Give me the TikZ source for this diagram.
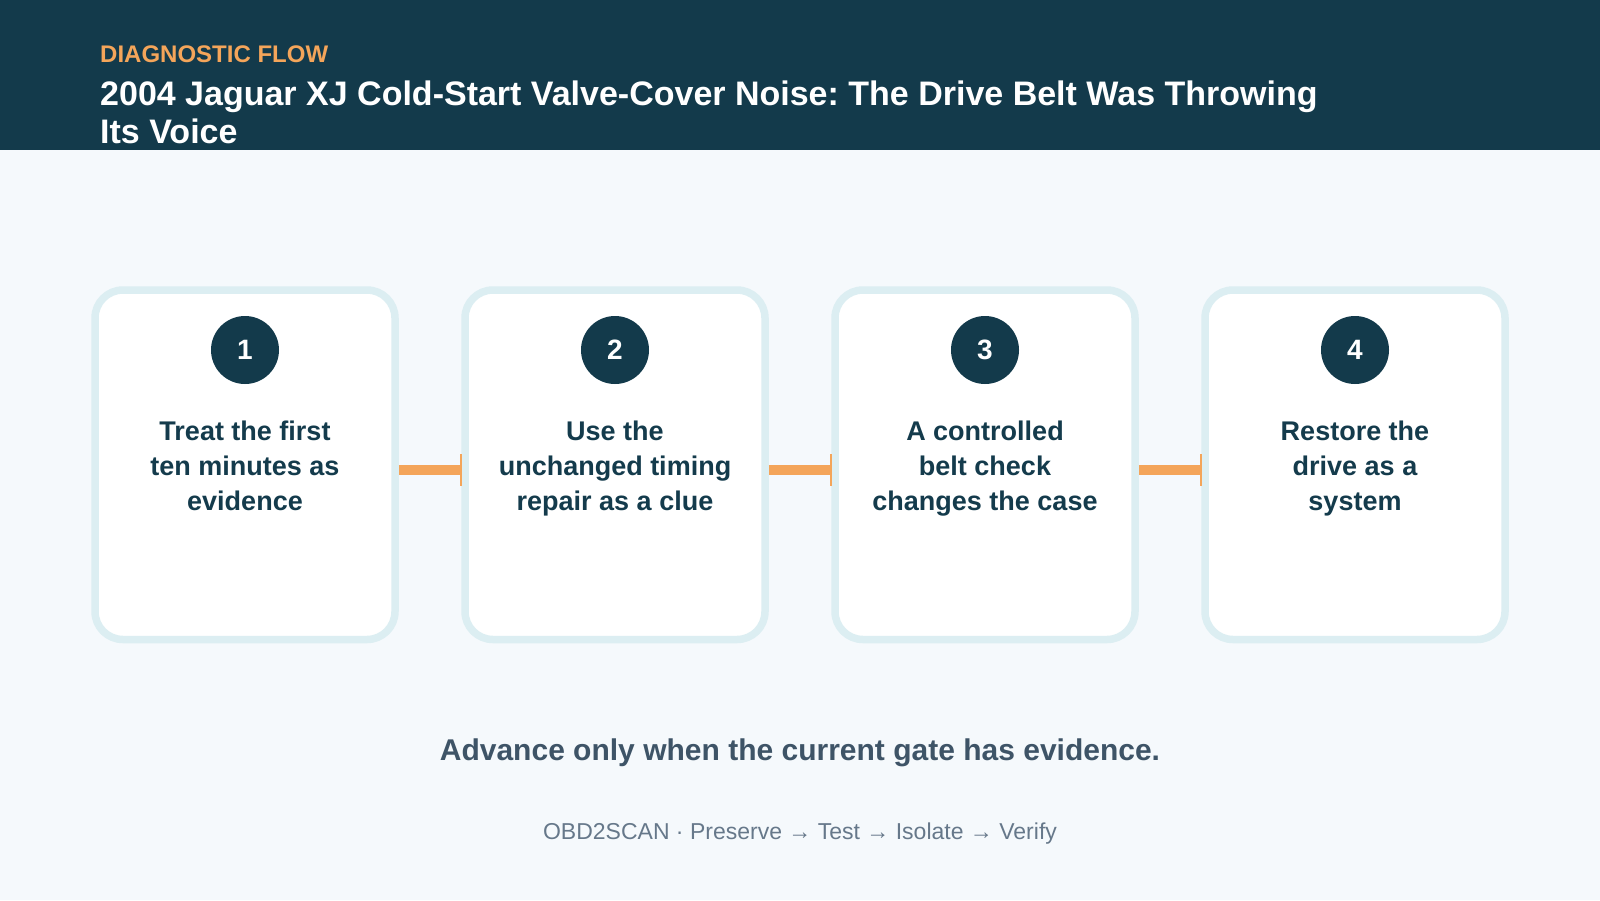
\documentclass[tikz,border=0pt]{standalone}
\usepackage{fontspec}
\setmainfont{Liberation Sans}
\frenchspacing
\usetikzlibrary{arrows.meta}
\definecolor{hdr}{HTML}{133A4B}
\definecolor{bg}{HTML}{F5F9FC}
\definecolor{accent}{HTML}{F4A55A}
\definecolor{cardline}{HTML}{DCEEF2}
\definecolor{ink}{HTML}{143B4C}
\definecolor{slate}{HTML}{3E5467}
\definecolor{muted}{HTML}{66788A}
\tikzset{
  card/.style={draw=cardline, fill=white, line width=7.5pt, rounded corners=28pt,
    minimum width=300pt, minimum height=349.5pt, inner sep=0pt},
  badge/.style={circle, fill=hdr, minimum size=68pt, inner sep=0pt, text=white,
    font=\bfseries\fontsize{28}{28}\selectfont},
  steptext/.style={align=center, text=ink, font=\bfseries\fontsize{27}{35}\selectfont,
    anchor=base, inner sep=0pt},
  connector/.style={draw=accent, line width=10pt, -{Rectangle[length=1.5pt,width=32pt]}},
}
\begin{document}
\begin{tikzpicture}[x=1pt,y=-1pt]
\useasboundingbox (0,0) rectangle (1600,900);
\fill[bg] (0,0) rectangle (1600,900);
\fill[hdr] (0,0) rectangle (1600,150);
\node[anchor=base west, inner sep=0pt, text=accent, font=\bfseries\fontsize{24}{24}\selectfont] (kicker) at (100,62) {DIAGNOSTIC FLOW};
\node[anchor=base west, inner sep=0pt, text=white, align=left, font=\bfseries\fontsize{34}{38}\selectfont] (title) at (100,143) {2004 Jaguar XJ Cold-Start Valve-Cover Noise: The Drive Belt Was Throwing\\Its Voice};

\foreach \i/\cx/\t in {1/245/{Treat the first\\ten minutes as\\evidence},
                      2/615/{Use the\\unchanged timing\\repair as a clue},
                      3/985/{A controlled\\belt check\\changes the case},
                      4/1355/{Restore the\\drive as a\\system}}{
  \node[card] (c\i) at (\cx,464.75) {};
  \node[badge] (b\i) at (\cx,350) {\i};
  \node[steptext] (t\i) at (\cx,510) {\t};
}
\foreach \a/\b in {1/2,2/3,3/4}{
  \draw[connector] ([yshift=-5pt]c\a.east) -- ([yshift=-5pt]c\b.west);
}
\node[anchor=base, inner sep=0pt, text=slate, font=\bfseries\fontsize{30}{30}\selectfont] (note) at (800,760) {Advance only when the current gate has evidence.};
\node[anchor=base, inner sep=0pt, text=muted, font=\fontsize{23}{23}\selectfont] (foot) at (800,839) {OBD2SCAN · Preserve → Test → Isolate → Verify};
\end{tikzpicture}
\end{document}
